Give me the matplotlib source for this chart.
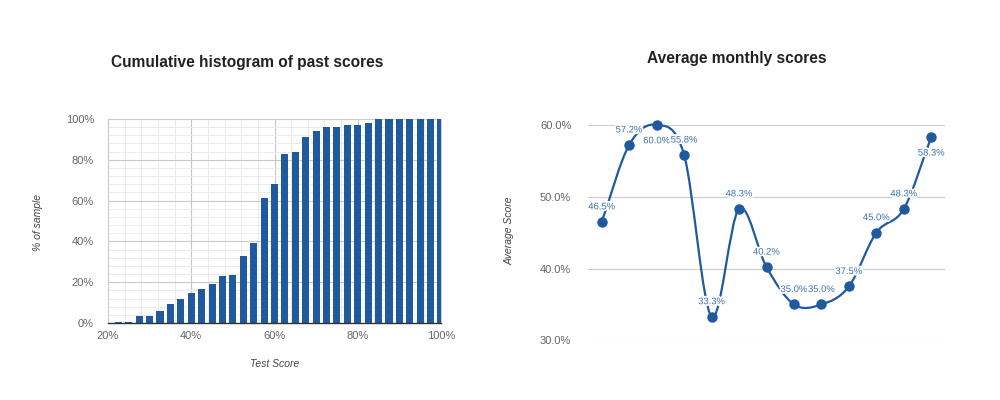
import numpy as np
import matplotlib
matplotlib.use("Agg")
import matplotlib.pyplot as plt
from matplotlib.path import Path
from matplotlib.patches import PathPatch
from matplotlib.ticker import FixedLocator
import matplotlib.patheffects as pe

plt.rcParams['font.family'] = ['Liberation Sans', 'DejaVu Sans']

# ---- data: cumulative histogram ----
score_bins = [22.5, 25, 27.5, 30, 32.5, 35, 37.5, 40, 42.5, 45, 47.5, 50,
              52.5, 55, 57.5, 60, 62.5, 65, 67.5, 70, 72.5, 75, 77.5, 80,
              82.5, 85, 87.5, 90, 92.5, 95, 97.5, 100]
cum_pct = [0.5, 0.5, 3.3, 3.3, 5.9, 9.2, 11.6, 14.8, 16.5, 18.9, 22.9, 23.6,
           32.6, 39.1, 61.2, 68.2, 82.8, 83.8, 91.2, 94.3, 95.9, 95.9, 97.1, 97.1,
           98.2, 100, 100, 100, 100, 100, 100, 100]
hist_xticks = [20, 40, 60, 80, 100]
hist_yticks = [0, 20, 40, 60, 80, 100]

# ---- data: monthly averages ----
months = list(range(13))
avg_scores = [46.5, 57.2, 60.0, 55.8, 33.3, 48.3, 40.2, 35.0, 35.0, 37.5, 45.0, 48.3, 58.3]
label_below = [False, False, True, False, False, False, False, False, False, False, False, False, True]
line_yticks = [30, 40, 50, 60]

BLUE = '#1f5a9e'
LABEL_BLUE = '#3f72ac'
TICK_COL = '#666666'
TITLE_COL = '#222222'

fig = plt.figure(figsize=(10, 4), dpi=100)
fig.patch.set_facecolor('white')

# ---------------- left chart ----------------
ax1 = fig.add_axes([0.108, 0.1925, 0.333, 0.51])
ax1.bar(score_bins, cum_pct, width=1.7, color=BLUE, zorder=3)
ax1.set_xlim(20, 100)
ax1.set_ylim(0, 100)
ax1.set_xticks(hist_xticks)
ax1.set_xticklabels([f"{v}%" for v in hist_xticks])
ax1.set_yticks(hist_yticks)
ax1.set_yticklabels([f"{v}%" for v in hist_yticks])
ax1.xaxis.set_minor_locator(FixedLocator(np.arange(20, 101, 4)))
ax1.yaxis.set_minor_locator(FixedLocator(np.arange(0, 101, 4)))
ax1.grid(which='major', color='#c8c8c8', linewidth=0.8, zorder=0)
ax1.grid(which='minor', color='#ebebeb', linewidth=0.7, zorder=0)
ax1.set_axisbelow(True)
ax1.tick_params(which='both', length=0, colors=TICK_COL, labelsize=8)
ax1.tick_params(axis='x', pad=6)
ax1.tick_params(axis='y', pad=10)
for s in ['top', 'right', 'left']:
    ax1.spines[s].set_color('#cccccc')
    ax1.spines[s].set_linewidth(0.8)
ax1.spines['bottom'].set_color('#333333')
ax1.spines['bottom'].set_linewidth(1.0)
ax1.spines['bottom'].set_zorder(4)

fig.text(0.111, 1 - 62 / 400, "Cumulative histogram of past scores", ha='left', va='center',
         fontsize=11.2, fontweight='bold', color=TITLE_COL)
fig.text(0.275, 1 - 364 / 400, "Test Score", ha='center', va='center', fontsize=7.5,
         style='italic', color='#444444')
fig.text(0.038, 1 - 222 / 400, "% of sample", ha='center', va='center', fontsize=7.5,
         style='italic', color='#444444', rotation=90)

# ---------------- right chart ----------------
ax2 = fig.add_axes([0.588, 0.149, 0.357, 0.539])
ax2.set_xlim(-0.5, 12.5)
ax2.set_ylim(30, 60)
ax2.set_yticks(line_yticks)
ax2.set_yticklabels([f"{v:.1f}%" for v in line_yticks])
ax2.set_xticks([])
ax2.grid(axis='y', color='#cccccc', linewidth=0.8, zorder=0)
ax2.tick_params(which='both', length=0, colors=TICK_COL, labelsize=8)
ax2.tick_params(axis='y', pad=12)
for s in ax2.spines.values():
    s.set_visible(False)

# smooth (Catmull-Rom style) curve via Bezier path in data coordinates
xs = np.array(months, dtype=float)
ys = np.array(avg_scores, dtype=float)
n = len(xs)
mx = np.zeros(n)
my = np.zeros(n)
for i in range(n):
    if i == 0:
        mx[i], my[i] = xs[1] - xs[0], ys[1] - ys[0]
    elif i == n - 1:
        mx[i], my[i] = xs[-1] - xs[-2], ys[-1] - ys[-2]
    else:
        mx[i], my[i] = (xs[i + 1] - xs[i - 1]) / 2, (ys[i + 1] - ys[i - 1]) / 2
verts = [(xs[0], ys[0])]
codes = [Path.MOVETO]
for i in range(n - 1):
    verts += [(xs[i] + mx[i] / 3, ys[i] + my[i] / 3),
              (xs[i + 1] - mx[i + 1] / 3, ys[i + 1] - my[i + 1] / 3),
              (xs[i + 1], ys[i + 1])]
    codes += [Path.CURVE4] * 3
patch = PathPatch(Path(verts, codes), facecolor='none', edgecolor=BLUE, linewidth=1.6,
                  transform=ax2.transData, clip_on=False, zorder=3)
ax2.add_patch(patch)
ax2.plot(months, avg_scores, 'o', color=BLUE, markersize=6.5, clip_on=False, zorder=4)

for x, y, below in zip(months, avg_scores, label_below):
    off = -16 if below else 15
    ax2.annotate(f"{y:.1f}%", (x, y), xytext=(0, off), textcoords='offset pixels',
                 ha='center', va='center', fontsize=6.8, color=LABEL_BLUE, zorder=5,
                 annotation_clip=False,
                 path_effects=[pe.withStroke(linewidth=2.5, foreground='white')])

fig.text(0.647, 1 - 59 / 400, "Average monthly scores", ha='left', va='center',
         fontsize=11.2, fontweight='bold', color=TITLE_COL)
fig.text(0.510, 1 - 231 / 400, "Average Score", ha='center', va='center', fontsize=7.5,
         style='italic', color='#444444', rotation=90)

fig.savefig('out.png', dpi=100, facecolor='white')
